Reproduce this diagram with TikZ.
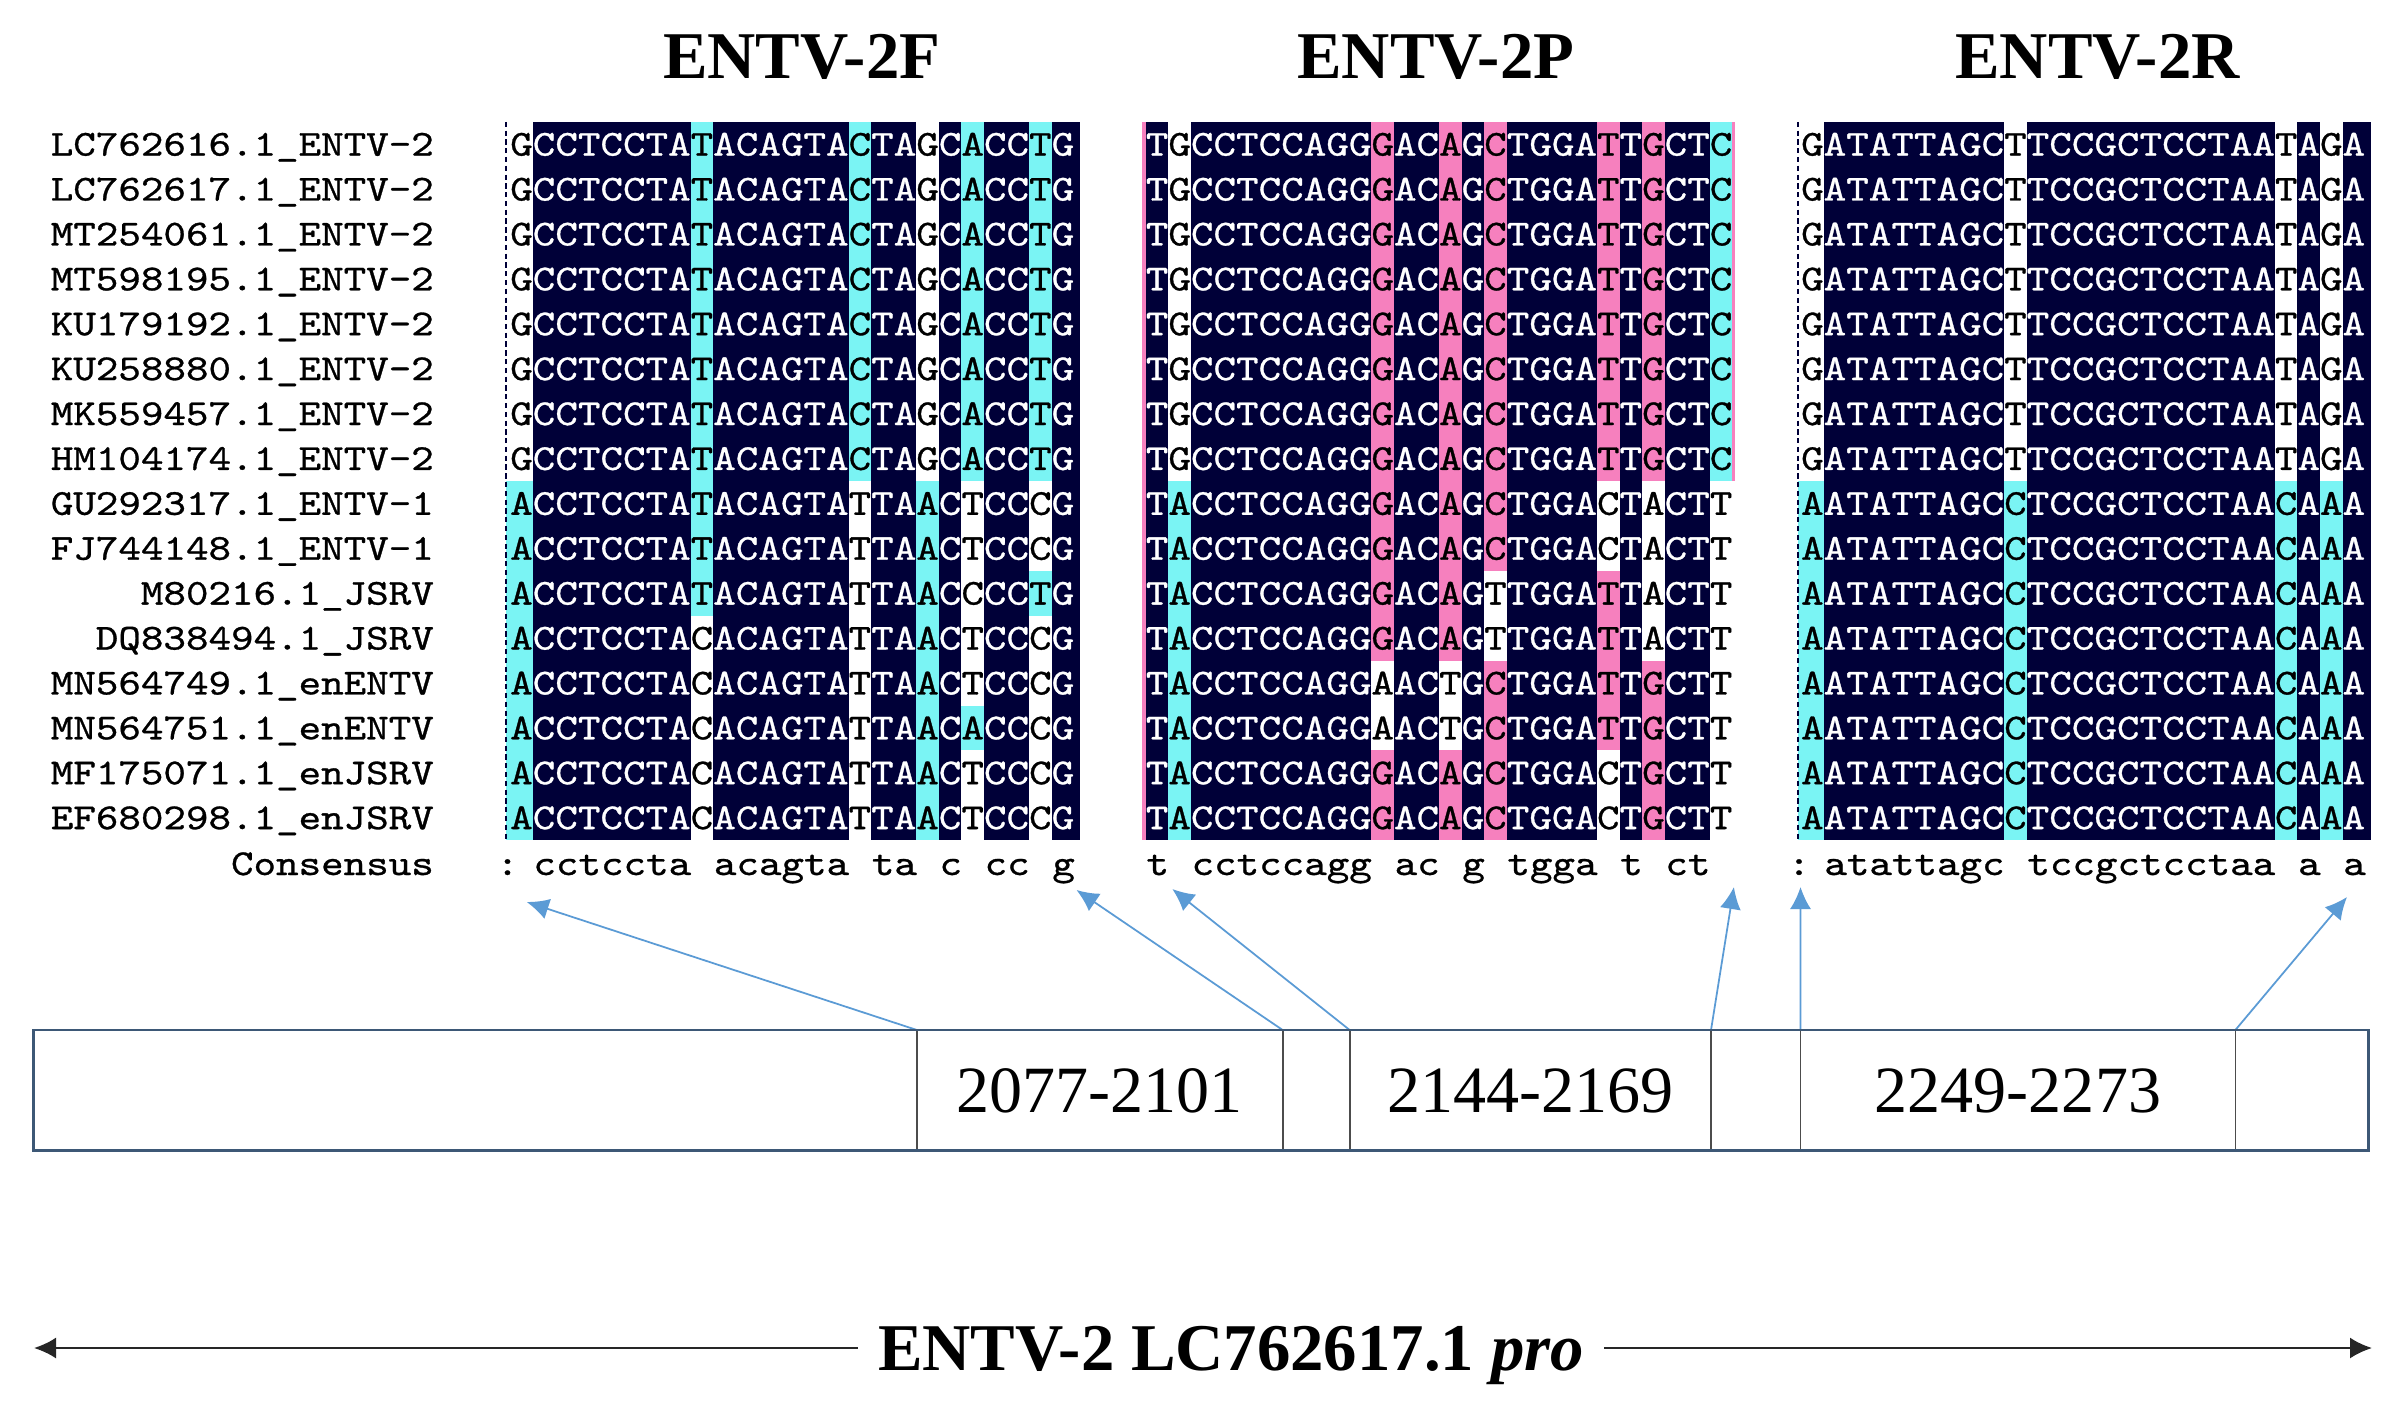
\documentclass[tikz,border=0pt]{standalone}
\usepackage{fontspec}
\setmainfont{Liberation Serif}
\newfontfamily\seqfont[FakeStretch=1.174,FakeBold=0.8]{lmmono10-regular.otf}
\usetikzlibrary{arrows.meta,positioning}

\definecolor{cellN}{RGB}{0,0,56}
\definecolor{cellC}{RGB}{122,244,244}
\definecolor{cellP}{RGB}{246,128,190}
\definecolor{cellW}{RGB}{255,255,255}
\colorlet{txtN}{white}
\colorlet{txtC}{black}
\colorlet{txtP}{black}
\colorlet{txtW}{black}
\definecolor{ptrcol}{RGB}{91,155,213}
\definecolor{framecol}{RGB}{61,88,118}

\newcommand{\colw}{0.2256}
\newcommand{\rowh}{0.449}
\newcount\cellk

\tikzset{
  seqtxt/.style={font=\seqfont\fontsize{10.4}{12}\selectfont, inner sep=0pt, text height=0.227cm, text depth=0pt},
  labtxt/.style={seqtxt, anchor=east},
  constxt/.style={font=\seqfont\fontsize{10.4}{12}\selectfont, inner sep=0pt, anchor=base west},
  ttl/.style={font=\fontsize{19}{22}\selectfont\bfseries, inner sep=0pt},
  segbox/.style={draw=black!70, line width=0.45pt, minimum height=1.207cm, inner sep=0pt, outer sep=0pt,
    font=\fontsize{18.8}{20}\selectfont, text height=0.45cm, text depth=0pt},
  barframe/.style={draw=framecol, line width=0.75pt},
  ptr/.style={->, draw=ptrcol, line width=0.5pt},
  gap/.style={draw=cellN, line width=0.4pt, dash pattern=on 1.5pt off 1pt},
  sumtxt/.style={font=\fontsize{19}{22}\selectfont\bfseries, inner xsep=0.2cm, inner ysep=0pt, text height=0.444cm, text depth=0pt},
  sumline/.style={->, line width=0.65pt, black!85}
}

% uma linha do alinhamento: bloco, x0, linha, letras, cores
\newcommand{\seqrow}[5]{%
  \def\sqb{#1}\def\sqx{#2}\def\sqr{#3}\cellk=0
  \pgfmathsetmacro\sqy{-1.218-(#3-1)*\rowh}%
  \edef\sqdo{\noexpand\seqcell#4\noexpand\relax#5\noexpand\relax}\sqdo}
\def\seqcell#1#2\relax#3#4\relax{%
  \fill[cell#3] ({\sqx+\the\cellk*\colw},\sqy) rectangle ++(\colw,-\rowh);
  \node[seqtxt, text=txt#3] (\sqb-\sqr-\the\cellk) at ({\sqx+(\the\cellk+0.5)*\colw},{\sqy-0.5*\rowh}) {#1};
  \advance\cellk by 1
  \ifx\relax#2\relax\def\sqnext{}\else\def\sqnext{\seqcell#2\relax#4\relax}\fi\sqnext}

\begin{document}
\begin{tikzpicture}[>={Latex[length=2.2mm,width=2.1mm]}]
\path[fill=white] (0,0) rectangle (23.99,-14.15);
\useasboundingbox (0,0) rectangle (23.99,-14.15);

% Titulos
\node[ttl] (ttlF) at (8.017,-0.566) {ENTV-2F};
\node[ttl] (ttlP) at (14.359,-0.566) {ENTV-2P};
\node[ttl] (ttlR) at (20.976,-0.566) {ENTV-2R};

% Nomes
\foreach \nm [count=\i] in {LC762616.1\_ENTV-2, LC762617.1\_ENTV-2, MT254061.1\_ENTV-2,
  MT598195.1\_ENTV-2, KU179192.1\_ENTV-2, KU258880.1\_ENTV-2, MK559457.1\_ENTV-2,
  HM104174.1\_ENTV-2, GU292317.1\_ENTV-1, FJ744148.1\_ENTV-1, M80216.1\_JSRV,
  DQ838494.1\_JSRV, MN564749.1\_enENTV, MN564751.1\_enENTV, MF175071.1\_enJSRV,
  EF680298.1\_enJSRV}
  \node[labtxt] (lab\i) at (4.345,{-1.218-(\i-0.5)*\rowh}) {\nm};
\node[constxt, anchor=base east] (labcons) at (4.345,-8.75) {Consensus};

% Bloco ENTV-2F
\foreach \ra/\rb/\sq/\cd in {
  1/8/GCCTCCTATACAGTACTAGCACCTG/WNNNNNNNCNNNNNNCNNWNCNNCN,
  9/10/ACCTCCTATACAGTATTAACTCCCG/CNNNNNNNCNNNNNNWNNCNWNNWN,
  11/11/ACCTCCTATACAGTATTAACCCCTG/CNNNNNNNCNNNNNNWNNCNWNNCN,
  12/13/ACCTCCTACACAGTATTAACTCCCG/CNNNNNNNWNNNNNNWNNCNWNNWN,
  14/14/ACCTCCTACACAGTATTAACACCCG/CNNNNNNNWNNNNNNWNNCNCNNWN,
  15/16/ACCTCCTACACAGTATTAACTCCCG/CNNNNNNNWNNNNNNWNNCNWNNWN}
  \foreach \r in {\ra,...,\rb} {\seqrow{F}{5.102}{\r}{\sq}{\cd}}

% Bloco ENTV-2P
\foreach \ra/\rb/\sq/\cd in {
  1/8/TGCCTCCAGGGACAGCTGGATTGCTC/NWNNNNNNNNPNNPNPNNNNPNPNNC,
  9/10/TACCTCCAGGGACAGCTGGACTACTT/NCNNNNNNNNPNNPNPNNNNWNWNNW,
  11/12/TACCTCCAGGGACAGTTGGATTACTT/NCNNNNNNNNPNNPNWNNNNPNWNNW,
  13/14/TACCTCCAGGAACTGCTGGATTGCTT/NCNNNNNNNNWNNWNPNNNNPNPNNW,
  15/16/TACCTCCAGGGACAGCTGGACTGCTT/NCNNNNNNNNPNNPNPNNNNWNPNNW}
  \foreach \r in {\ra,...,\rb} {\seqrow{P}{11.458}{\r}{\sq}{\cd}}

% Bloco ENTV-2R
\foreach \ra/\rb/\sq/\cd in {
  1/8/GATATTAGCTTCCGCTCCTAATAGA/WNNNNNNNNWNNNNNNNNNNNWNWN,
  9/16/AATATTAGCCTCCGCTCCTAACAAA/CNNNNNNNNCNNNNNNNNNNNCNCN}
  \foreach \r in {\ra,...,\rb} {\seqrow{R}{18.011}{\r}{\sq}{\cd}}

% Bordas dos blocos
\fill[cellC] (5.06,{-1.218-8*\rowh}) rectangle (5.102,{-1.218-16*\rowh});
\fill[cellN] (10.742,-1.218) rectangle (10.80,{-1.218-16*\rowh});
\fill[cellP] (11.42,-1.218) rectangle (11.458,{-1.218-16*\rowh});
\fill[cellP] (17.324,-1.218) rectangle (17.345,{-1.218-8*\rowh});
\fill[cellC] (17.98,{-1.218-8*\rowh}) rectangle (18.011,{-1.218-16*\rowh});
\fill[cellN] (23.651,-1.218) rectangle (23.71,{-1.218-16*\rowh});
\draw[gap] (5.06,-1.218) -- (5.06,{-1.218-16*\rowh});
\draw[gap] (17.98,-1.218) -- (17.98,{-1.218-16*\rowh});

% Consenso
\node[constxt, anchor=base] (consF0) at (5.075,-8.75) {:};
\foreach \cx/\cw in {2/cctccta, 10/acagta, 17/ta, 20/c, 22/cc, 25/g}
  \node[constxt] (consF\cx) at ({5.102+(\cx-1)*\colw},-8.75) {\cw};
\foreach \cx/\cw in {1/t, 3/cctccagg, 12/ac, 15/g, 17/tgga, 22/t, 24/ct}
  \node[constxt] (consP\cx) at ({11.458+(\cx-1)*\colw},-8.75) {\cw};
\node[constxt, anchor=base] (consR0) at (17.99,-8.75) {:};
\foreach \cx/\cw in {2/atattagc, 11/tccgctcctaa, 23/a, 25/a}
  \node[constxt] (consR\cx) at ({18.011+(\cx-1)*\colw},-8.75) {\cw};

% Genoma
\foreach \xa/\xb/\txt [count=\i] in {0.337/9.17/{}, 9.17/12.827/2077-2101, 12.827/13.497/{},
  13.497/17.11/2144-2169, 17.11/18.005/{}, 18.005/22.353/2249-2273, 22.353/23.684/{}} {
  \pgfmathsetmacro\segw{\xb-\xa}
  \pgfmathsetmacro\segx{(\xa+\xb)/2}
  \node[segbox, minimum width=\segw cm] (seg\i) at (\segx,-10.904) {\txt};
}

% Setas
\coordinate (tip1) at (5.267,-9.02);
\coordinate (tip2) at (10.765,-8.90);
\coordinate (tip3) at (11.723,-8.89);
\coordinate (tip4) at (17.339,-8.87);
\coordinate (tip5) at (18.005,-8.87);
\coordinate (tip6) at (23.47,-8.97);
\draw[ptr] (seg2.north west) -- (tip1);
\draw[ptr] (seg3.north west) -- (tip2);
\draw[ptr] (seg4.north west) -- (tip3);
\draw[ptr] (seg5.north west) -- (tip4);
\draw[ptr] (seg6.north west) -- (tip5);
\draw[ptr] (seg7.north west) -- (tip6);
\draw[barframe] (seg1.north west) rectangle (seg7.south east);

% Escala
\node[sumtxt] (sumlbl) at (12.31,-13.48) {ENTV-2 LC762617.1 \textit{pro}};
\coordinate (lend) at (0.34,-13.48);
\coordinate (rend) at (23.72,-13.48);
\draw[sumline] (sumlbl) -- (lend);
\draw[sumline] (sumlbl) -- (rend);
\end{tikzpicture}
\end{document}
